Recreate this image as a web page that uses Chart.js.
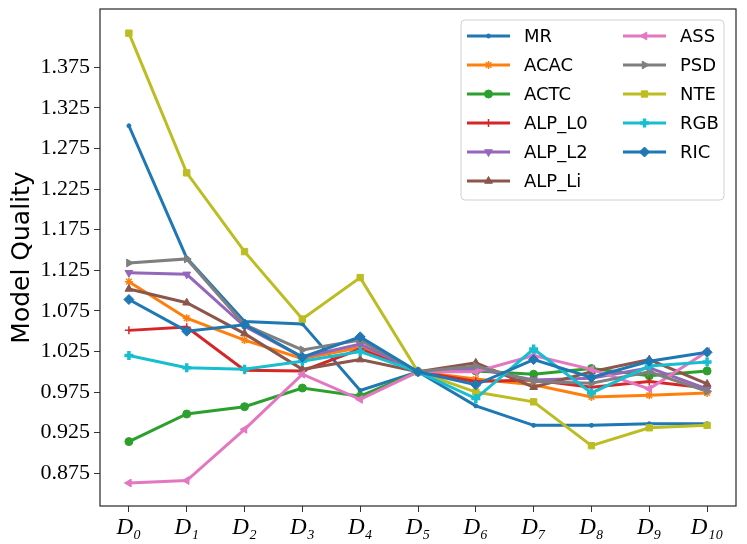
<!DOCTYPE html>
<html>
<head>
<meta charset="utf-8">
<script src="https://cdn.jsdelivr.net/npm/chart.js@4.4.0/dist/chart.umd.min.js"></script>
<style>
  html, body { margin: 0; padding: 0; background: #fff; }
  #wrap { width: 747px; height: 544px; }
</style>
</head>
<body>
<div id="wrap"><canvas id="myChart"></canvas></div>
<script>
let xLabels = ["D\u2080", "D\u2081", "D\u2082", "D\u2083", "D\u2084", "D\u2085",
               "D\u2086", "D\u2087", "D\u2088", "D\u2089", "D\u2081\u2080"];
let yTicks = [0.875, 0.925, 0.975, 1.025, 1.075, 1.125, 1.175, 1.225, 1.275, 1.325, 1.375];

let seriesNames = ["MR", "ACAC", "ACTC", "ALP_L0", "ALP_L2", "ALP_Li",
                   "ASS", "PSD", "NTE", "RGB", "RIC"];

let mrValues    = [1.303, 1.140, 1.062, 1.059, 0.977, 1.000, 0.958, 0.934, 0.934, 0.936, 0.936];
let acacValues  = [1.111, 1.066, 1.039, 1.016, 1.030, 1.000, 0.991, 0.984, 0.969, 0.971, 0.974];
let actcValues  = [0.914, 0.948, 0.957, 0.980, 0.970, 1.000, 1.001, 0.997, 1.004, 0.995, 1.001];
let alpL0Values = [1.051, 1.055, 1.002, 1.001, 1.028, 1.000, 0.988, 0.990, 0.981, 0.988, 0.980];
let alpL2Values = [1.122, 1.120, 1.056, 1.018, 1.034, 1.000, 1.004, 0.990, 0.992, 1.005, 0.979];
let alpLiValues = [1.102, 1.085, 1.047, 1.003, 1.015, 1.000, 1.011, 0.981, 1.000, 1.015, 0.985];
let assValues   = [0.863, 0.866, 0.929, 0.997, 0.966, 1.000, 1.000, 1.020, 1.003, 0.979, 1.025];
let psdValues   = [1.134, 1.139, 1.058, 1.027, 1.039, 1.000, 1.007, 0.988, 0.986, 1.000, 0.976];
let nteValues   = [1.417, 1.245, 1.148, 1.065, 1.116, 1.000, 0.975, 0.963, 0.909, 0.931, 0.934];
let rgbValues   = [1.020, 1.005, 1.003, 1.013, 1.025, 1.000, 0.967, 1.028, 0.974, 1.007, 1.012];
let ricValues   = [1.089, 1.050, 1.058, 1.018, 1.043, 1.000, 0.984, 1.015, 0.993, 1.013, 1.024];

let allValues = [mrValues, acacValues, actcValues, alpL0Values, alpL2Values, alpLiValues,
                 assValues, psdValues, nteValues, rgbValues, ricValues];

// tab10 colours, matplotlib style markers
let colors = ["#1f77b4", "#ff7f0e", "#2ca02c", "#d62728", "#9467bd", "#8c564b",
              "#e377c2", "#7f7f7f", "#bcbd22", "#17becf", "#1f77b4"];
let markers = [
  { style: "circle", rot: 0, r: 2, bw: 1 },      // MR  '.'
  { style: "star", rot: 0, r: 4, bw: 1.5 },      // ACAC
  { style: "circle", rot: 0, r: 4, bw: 1 },      // ACTC 'o'
  { style: "cross", rot: 0, r: 4, bw: 1.5 },     // ALP_L0 '+'
  { style: "triangle", rot: 180, r: 4.5, bw: 1 },// ALP_L2 'v'
  { style: "triangle", rot: 0, r: 4.5, bw: 1 },  // ALP_Li '^'
  { style: "triangle", rot: 270, r: 4.5, bw: 1 },// ASS '<'
  { style: "triangle", rot: 90, r: 4.5, bw: 1 }, // PSD '>'
  { style: "rect", rot: 0, r: 4.5, bw: 1 },      // NTE 's'
  { style: "cross", rot: 0, r: 4.5, bw: 3.5 },   // RGB 'P'
  { style: "rectRot", rot: 0, r: 5, bw: 1 }      // RIC 'D'
];

let datasets = seriesNames.map(function (name, i) {
  return {
    label: name,
    data: allValues[i],
    borderColor: colors[i],
    backgroundColor: colors[i],
    borderWidth: 3,
    pointStyle: markers[i].style,
    pointRotation: markers[i].rot,
    pointRadius: markers[i].r,
    pointBorderWidth: markers[i].bw,
    pointBackgroundColor: colors[i],
    pointBorderColor: colors[i],
    tension: 0,
    order: seriesNames.length - i  // later series on top, like matplotlib
  };
});

// frame around the plot area, drawn over the lines
const framePlugin = {
  id: "frame",
  afterDatasetsDraw(chart) {
    const a = chart.chartArea;
    const ctx = chart.ctx;
    ctx.save();
    ctx.strokeStyle = "#262626";
    ctx.lineWidth = 1.2;
    ctx.strokeRect(a.left, a.top, a.right - a.left, a.bottom - a.top);
    ctx.restore();
  }
};

// matplotlib-like legend, two columns, column-major order
const legendPlugin = {
  id: "mplLegend",
  afterDraw(chart) {
    const ctx = chart.ctx;
    const boxX = 461, boxY = 20, boxW = 263, boxH = 180;
    ctx.save();
    ctx.fillStyle = "rgba(255,255,255,0.85)";
    ctx.strokeStyle = "#d0d0d0";
    ctx.lineWidth = 1;
    ctx.beginPath();
    ctx.roundRect(boxX, boxY, boxW, boxH, 4);
    ctx.fill();
    ctx.stroke();

    const rows = 6;
    const colX = [467, 623];
    const rowY0 = 36, rowStep = 29;
    ctx.font = "18px 'DejaVu Sans'";
    ctx.textBaseline = "middle";
    chart.data.datasets.forEach(function (ds, i) {
      const col = Math.floor(i / rows);
      const row = i % rows;
      const x = colX[col];
      const y = rowY0 + row * rowStep;
      ctx.strokeStyle = ds.borderColor;
      ctx.lineWidth = 3;
      ctx.beginPath();
      ctx.moveTo(x, y);
      ctx.lineTo(x + 43, y);
      ctx.stroke();
      ctx.fillStyle = ds.borderColor;
      ctx.lineWidth = ds.pointBorderWidth;
      Chart.helpers.drawPoint(ctx, {
        pointStyle: ds.pointStyle,
        rotation: ds.pointRotation,
        radius: ds.pointRadius,
        borderWidth: ds.pointBorderWidth
      }, x + 21.5, y);
      ctx.fillStyle = "#000";
      ctx.fillText(ds.label, x + 57, y + 1);
    });
    ctx.restore();
  }
};

new Chart("myChart", {
  type: "line",
  data: {
    labels: xLabels,
    datasets: datasets
  },
  plugins: [framePlugin, legendPlugin],
  options: {
    responsive: true,
    maintainAspectRatio: false,
    animation: false,
    layout: {
      padding: { top: 9, right: 11, left: 0, bottom: 0 }
    },
    plugins: {
      legend: { display: false },
      tooltip: { enabled: false }
    },
    scales: {
      x: {
        type: "category",
        offset: true,
        grid: {
          drawOnChartArea: false,
          drawTicks: true,
          tickLength: 6,
          color: "#333",
          offset: false
        },
        border: { display: false },
        ticks: {
          color: "#000",
          padding: 2,
          maxRotation: 0,
          font: { family: "'Liberation Serif'", size: 23, style: "italic" }
        },
        afterFit(scale) {
          scale.height = 38;
          scale.paddingLeft = 0;
          scale.paddingRight = 0;
        }
      },
      y: {
        min: 0.8347,
        max: 1.4468,
        grid: {
          drawOnChartArea: false,
          drawTicks: true,
          tickLength: 6,
          color: "#333"
        },
        border: { display: false },
        afterBuildTicks(scale) {
          scale.ticks = yTicks.map(function (v) { return { value: v }; });
        },
        ticks: {
          color: "#000",
          padding: 4,
          font: { family: "'Liberation Serif'", size: 22 },
          callback: function (v) { return Number(v).toFixed(3); }
        },
        title: {
          display: true,
          text: "Model Quality",
          color: "#000",
          padding: { top: 7, bottom: 0 },
          font: { family: "'DejaVu Sans'", size: 25 }
        },
        afterFit(scale) {
          scale.width = 100;
          scale.paddingTop = 0;
          scale.paddingBottom = 0;
        }
      }
    }
  }
});
</script>
</body>
</html>
